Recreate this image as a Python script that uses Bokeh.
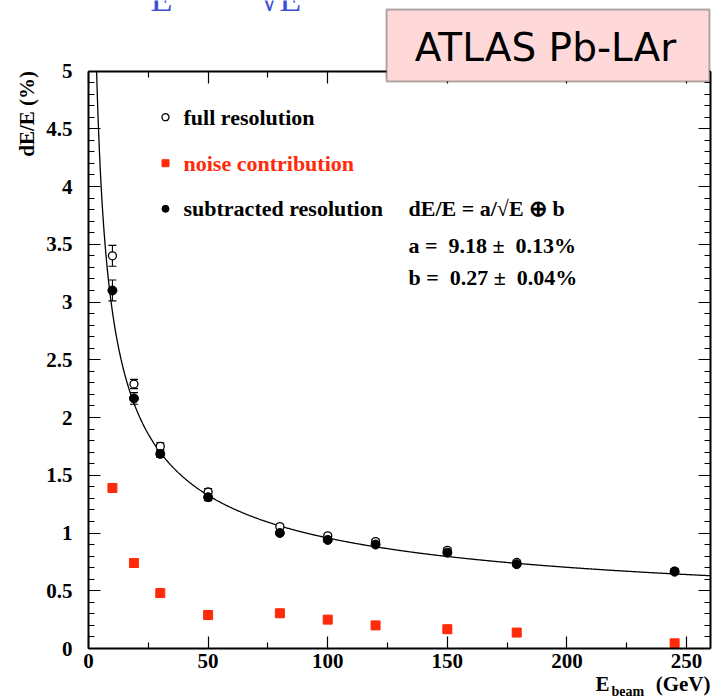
import numpy as np
from bokeh.plotting import figure
from bokeh.models import (LinearAxis, FixedTicker, Label, BoxAnnotation,
                          CustomJSTickFormatter, Range1d, ColumnDataSource)
from bokeh.embed import file_html
from bokeh.resources import INLINE

# ---------------- data ----------------
energy = [10, 19, 30, 50, 80, 100, 120, 150, 179, 245]
full_res = [3.40, 2.29, 1.75, 1.355, 1.055, 0.975, 0.925, 0.85, 0.745, 0.67]
full_err = [0.09, 0.04, 0.03, 0.03, 0.02, 0.02, 0.02, 0.02, 0.02, 0.02]
sub_res = [3.10, 2.165, 1.685, 1.31, 1.00, 0.94, 0.90, 0.83, 0.73, 0.665]
sub_err = [0.09, 0.05, 0.03, 0.03, 0.02, 0.02, 0.02, 0.02, 0.02, 0.02]
noise = [1.39, 0.74, 0.48, 0.29, 0.305, 0.25, 0.20, 0.167, 0.138, 0.045]

# fit parameters printed on the chart (dE/E = a/sqrt(E) (+) b)
FIT_A = 9.18
FIT_B = 0.27

x_ticks = [0, 50, 100, 150, 200, 250]
x_minor = [25, 75, 125, 175, 225]
y_ticks = [0, 0.5, 1, 1.5, 2, 2.5, 3, 3.5, 4, 4.5, 5]

X_MIN, X_MAX = 0, 260
Y_MIN, Y_MAX = 0, 5

RED = "#ff2a0a"
BLUE = "#3f4fd6"
SERIF = "Liberation Serif"
NB = "\u00a0"

# canvas geometry: plot box spans pixels x 88..710, y 70.5..648
W, H = 713, 698
PX_L, PX_R, PX_T, PX_B = 88.0, 710.0, 70.5, 648.0
sx = (PX_R - PX_L) / (X_MAX - X_MIN)
sy = (PX_B - PX_T) / (Y_MAX - Y_MIN)
x_range = Range1d(X_MIN - PX_L / sx, X_MAX + (W - PX_R) / sx)
y_range = Range1d(Y_MIN - (H - PX_B) / sy, Y_MAX + PX_T / sy)


def cx(px):
    """canvas pixel x -> data x (for annotation placement)"""
    return X_MIN + (px - PX_L) / sx


def cy(py):
    """canvas pixel y -> data y (for annotation placement)"""
    return Y_MIN + (PX_B - py) / sy


p = figure(width=W, height=H, output_backend="svg", toolbar_location=None,
           x_range=x_range, y_range=y_range,
           min_border_left=0, min_border_right=0, min_border_top=0,
           min_border_bottom=0, x_axis_type=None, y_axis_type=None)
p.background_fill_color = "white"
p.border_fill_color = "white"
p.outline_line_color = None
p.xgrid.visible = False
p.ygrid.visible = False


def style_axis(ax, show_labels, standoff):
    ax.axis_line_color = "black"
    ax.axis_line_width = 2
    ax.major_tick_in = 12
    ax.major_tick_out = 0
    ax.minor_tick_in = 6
    ax.minor_tick_out = 0
    ax.major_tick_line_width = 1.2
    ax.minor_tick_line_width = 1.2
    ax.major_tick_line_color = "black"
    ax.minor_tick_line_color = "black"
    ax.major_label_standoff = standoff
    if show_labels:
        ax.major_label_text_font = SERIF
        ax.major_label_text_font_style = "bold"
        ax.major_label_text_font_size = "21px"
        ax.major_label_text_color = "black"
    else:
        ax.formatter = CustomJSTickFormatter(code="return ''")
        ax.major_label_text_font_size = "0px"


xt = FixedTicker(ticks=x_ticks, minor_ticks=x_minor)
yminor = [round(i * 0.1, 1) for i in range(51)]
yt = FixedTicker(ticks=y_ticks, minor_ticks=yminor)

bottom = LinearAxis(ticker=xt, fixed_location=Y_MIN, bounds=(X_MIN, X_MAX))
style_axis(bottom, True, 5)
top = LinearAxis(ticker=xt, fixed_location=Y_MAX, bounds=(X_MIN, X_MAX))
style_axis(top, False, 0)
left = LinearAxis(ticker=yt, fixed_location=X_MIN, bounds=(Y_MIN, Y_MAX))
style_axis(left, True, 16)
right = LinearAxis(ticker=yt, fixed_location=X_MAX, bounds=(Y_MIN, Y_MAX))
style_axis(right, False, 0)
p.add_layout(bottom, "below")
p.add_layout(top, "above")
p.add_layout(left, "left")
p.add_layout(right, "right")

# ---------------- fit curve (kept inside the plot box) ----------------
e_start = FIT_A ** 2 / (Y_MAX ** 2 - FIT_B ** 2)
e_curve = np.linspace(e_start, X_MAX, 800)
y_curve = np.sqrt((FIT_A / np.sqrt(e_curve)) ** 2 + FIT_B ** 2)
p.line(e_curve, y_curve, line_color="black", line_width=1.3)

# ---------------- error bars ----------------
src = ColumnDataSource(dict(
    x=energy, full=full_res, sub=sub_res, noise=noise,
    flo=[v - e for v, e in zip(full_res, full_err)],
    fhi=[v + e for v, e in zip(full_res, full_err)],
    slo=[v - e for v, e in zip(sub_res, sub_err)],
    shi=[v + e for v, e in zip(sub_res, sub_err)]))
for lo, hi in (("flo", "fhi"), ("slo", "shi")):
    p.segment(x0="x", y0=lo, x1="x", y1=hi, source=src,
              line_color="black", line_width=1.1)
    p.scatter(x="x", y=lo, source=src, marker="dash", size=8,
              line_color="black", line_width=1.1)
    p.scatter(x="x", y=hi, source=src, marker="dash", size=8,
              line_color="black", line_width=1.1)

# ---------------- markers ----------------
p.scatter(x="x", y="full", source=src, marker="circle", size=8,
          fill_color="white", line_color="black", line_width=1.3)
p.scatter(x="x", y="sub", source=src, marker="circle", size=9,
          fill_color="black", line_color="black")
p.scatter(x="x", y="noise", source=src, marker="square", size=9,
          fill_color=RED, line_color=RED)

# ---------------- legend-like annotation ----------------
leg_x = cx(165)
leg_rows = [cy(116.7), cy(162.7), cy(208.3)]
p.scatter([leg_x], [leg_rows[0]], marker="circle", size=7,
          fill_color="white", line_color="black", line_width=1.3)
p.scatter([leg_x], [leg_rows[1]], marker="square", size=7,
          fill_color=RED, line_color=RED)
p.scatter([leg_x], [leg_rows[2]], marker="circle", size=7,
          fill_color="black", line_color="black")


def txt(x, y, s, color="black", size="22px", align="left", baseline="middle",
        font=SERIF, style="bold", angle=0.0):
    lab = Label(x=x, y=y, text=s, text_color=color, text_font_size=size,
                text_align=align, text_baseline=baseline, text_font=font,
                text_font_style=style, angle=angle)
    p.add_layout(lab)


txt(cx(183), leg_rows[0], "full resolution")
txt(cx(183), leg_rows[1], "noise contribution", color=RED)
txt(cx(183), leg_rows[2], "subtracted resolution")
txt(cx(408), leg_rows[2], "dE/E = a/\u221aE \u2295 b")
txt(cx(408), cy(245), f"a ={NB}{NB}9.18 \u00b1{NB}{NB}0.13%")
txt(cx(408), cy(276.7), f"b ={NB}{NB}0.27 \u00b1{NB}{NB}0.04%")

# ---------------- ATLAS box ----------------
box = BoxAnnotation(left=cx(386), right=cx(709), bottom=cy(81), top=cy(9),
                    fill_color="#ffd9d9", fill_alpha=1.0,
                    line_color="black", line_width=2, level="overlay")
p.add_layout(box)
p.add_layout(Label(x=cx(545), y=cy(47), text="ATLAS Pb-LAr",
                   text_color="black", text_font_size="39px",
                   text_font="DejaVu Sans", text_align="center",
                   text_baseline="middle", level="overlay"))

# ---------------- partial blue title at the top (cut off) ----------------
txt(cx(150), cy(-2), "E", color=BLUE, size="36px", style="normal")
txt(cx(259), cy(-2), "\u221aE", color=BLUE, size="36px", style="normal")

# ---------------- axis titles ----------------
txt(cx(26), Y_MAX, "dE/E (%)", size="21px", align="right",
    angle=np.pi / 2)
txt(cx(595), cy(683.5), "E", size="21px")
txt(cx(611), cy(690.5), "beam", size="14px")
txt(cx(710), cy(683.5), "(GeV)", size="21px", align="right")

open("out.html", "w").write(file_html(p, INLINE))
